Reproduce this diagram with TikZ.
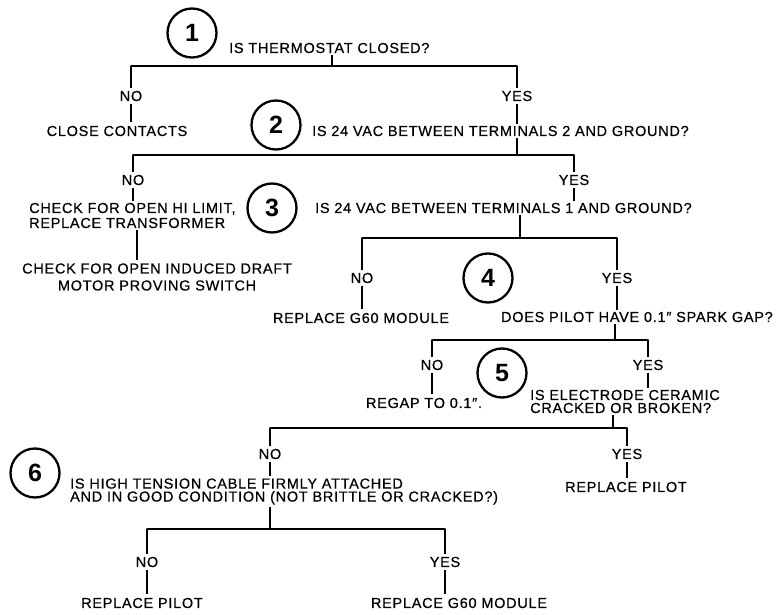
\documentclass[tikz,border=0pt]{standalone}
\usepackage{fontspec}
\setmainfont{Liberation Sans}
\newfontfamily\chartfam{Liberation Sans}[LetterSpace=5, FakeBold=0.5]
\usetikzlibrary{positioning}
\newcommand{\qfont}{\chartfam\fontsize{14.5}{15}\selectfont}
\newcommand{\numfont}{\fontsize{25}{25}\selectfont\bfseries}
\tikzset{
  qtext/.style={anchor=west, align=left, font=\qfont, inner sep=2pt},
  anstext/.style={align=center, font=\qfont, inner sep=3.5pt},
  yn/.style={font=\qfont, inner sep=3pt},
  stepnum/.style={circle, draw, line width=2.3pt, minimum size=49pt, inner sep=0pt, font=\numfont},
  bar/.style={line width=1.8pt, line cap=round},
  stem/.style={line width=2.6pt}
}
\begin{document}
\begin{tikzpicture}[x=1pt,y=-1pt]
  \useasboundingbox (0,0) rectangle (777,615);
  % step 1
  \node[stepnum] (n1) at (192,33) {1};
  \node[qtext] (q1) at (227,48) {IS THERMOSTAT CLOSED?};
  \coordinate (b1l) at (131,66);
  \coordinate (b1m) at (332,66);
  \coordinate (b1r) at (517,66);
  \draw[bar] (b1l) -- (b1r);
  \draw[stem] (q1.south -| b1m) -- (b1m);
  \node[yn] (no1) at (131,96) {NO};
  \node[yn] (yes1) at (517,96) {YES};
  \draw[stem] (b1l) -- (no1);
  \draw[stem] (b1r) -- (yes1);
  \node[anstext] (a1) at (117,131) {CLOSE CONTACTS};
  \draw[stem] (no1) -- (no1 |- a1.north);
  % step 2
  \node[stepnum] (n2) at (276,125) {2};
  \node[qtext] (q2) at (310,131) {IS 24 VAC BETWEEN TERMINALS 2 AND GROUND?};
  \draw[stem] (yes1) -- (yes1 |- q2.north);
  \coordinate (b2l) at (133,155);
  \coordinate (b2m) at (517,155);
  \coordinate (b2r) at (574,155);
  \draw[bar] (b2l) -- (b2r);
  \draw[stem] (q2.south -| b2m) -- (b2m);
  \node[yn] (no2) at (133,180) {NO};
  \node[yn] (yes2) at (574,180) {YES};
  \draw[stem] (b2l) -- (no2);
  \draw[stem] (b2r) -- (yes2);
  \node[qtext] (a2) at (27,215.5) {CHECK FOR OPEN HI LIMIT,\\REPLACE TRANSFORMER};
  \draw[stem] (no2) -- (no2 |- a2.north);
  \node[anstext] (a2b) at (157,277) {CHECK FOR OPEN INDUCED DRAFT\\[2pt]MOTOR PROVING SWITCH};
  \draw[stem] (a2.south -| 137,0) -- (a2b.north -| 137,0);
  % step 3
  \node[stepnum] (n3) at (272,208) {3};
  \node[qtext] (q3) at (313,208) {IS 24 VAC BETWEEN TERMINALS 1 AND GROUND?};
  \draw[stem] (yes2) -- (yes2 |- q3.north);
  \coordinate (b3l) at (362,238);
  \coordinate (b3m) at (520,238);
  \coordinate (b3r) at (617,238);
  \draw[bar] (b3l) -- (b3r);
  \draw[stem] (q3.south -| b3m) -- (b3m);
  \node[yn] (no3) at (362,278) {NO};
  \node[yn] (yes3) at (617,278) {YES};
  \draw[stem] (b3l) -- (no3);
  \draw[stem] (b3r) -- (yes3);
  \node[anstext] (a3) at (361,318) {REPLACE G60 MODULE};
  \draw[stem] (no3) -- (no3 |- a3.north);
  % step 4
  \node[stepnum] (n4) at (488,278) {4};
  \node[qtext, anchor=east] (q4) at (775,317) {DOES PILOT HAVE 0.1″ SPARK GAP?};
  \draw[stem] (yes3) -- (yes3 |- q4.north);
  \coordinate (b4l) at (432,340);
  \coordinate (b4m) at (615,340);
  \coordinate (b4r) at (648,340);
  \draw[bar] (b4l) -- (b4r);
  \draw[stem] (q4.south -| b4m) -- (b4m);
  \node[yn] (no4) at (432,365) {NO};
  \node[yn] (yes4) at (648,365) {YES};
  \draw[stem] (b4l) -- (no4);
  \draw[stem] (b4r) -- (yes4);
  \node[anstext] (a4) at (424,403) {REGAP TO 0.1″.};
  \draw[stem] (no4) -- (no4 |- a4.north);
  % step 5
  \node[stepnum] (n5) at (502,373) {5};
  \node[qtext] (q5) at (528,401.5) {IS ELECTRODE CERAMIC\\[-2pt]CRACKED OR BROKEN?};
  \draw[stem] (yes4) -- (yes4 |- q5.north);
  \coordinate (b5l) at (270,428);
  \coordinate (b5m) at (613,428);
  \coordinate (b5r) at (627,428);
  \draw[bar] (b5l) -- (b5r);
  \draw[stem] (q5.south -| b5m) -- (b5m);
  \node[yn] (no5) at (270,454) {NO};
  \node[yn] (yes5) at (627,454) {YES};
  \draw[stem] (b5l) -- (no5);
  \draw[stem] (b5r) -- (yes5);
  \node[anstext] (a5) at (626,487) {REPLACE PILOT};
  \draw[stem] (yes5) -- (yes5 |- a5.north);
  % step 6
  \node[stepnum] (n6) at (35,473) {6};
  \node[qtext] (q6) at (68,491.5) {IS HIGH TENSION CABLE FIRMLY ATTACHED\\[-2pt]AND IN GOOD CONDITION (NOT BRITTLE OR CRACKED?)};
  \draw[stem] (no5) -- (no5 |- q6.north);
  \coordinate (b6l) at (147,529);
  \coordinate (b6m) at (270,529);
  \coordinate (b6r) at (445,529);
  \draw[bar] (b6l) -- (b6r);
  \draw[stem] (q6.south -| b6m) -- (b6m);
  \node[yn] (no6) at (147,562) {NO};
  \node[yn] (yes6) at (445,562) {YES};
  \draw[stem] (b6l) -- (no6);
  \draw[stem] (b6r) -- (yes6);
  \node[anstext] (a6) at (142,603) {REPLACE PILOT};
  \node[anstext] (a7) at (459,603) {REPLACE G60 MODULE};
  \draw[stem] (no6) -- (no6 |- a6.north);
  \draw[stem] (yes6) -- (yes6 |- a7.north);
\end{tikzpicture}
\end{document}
